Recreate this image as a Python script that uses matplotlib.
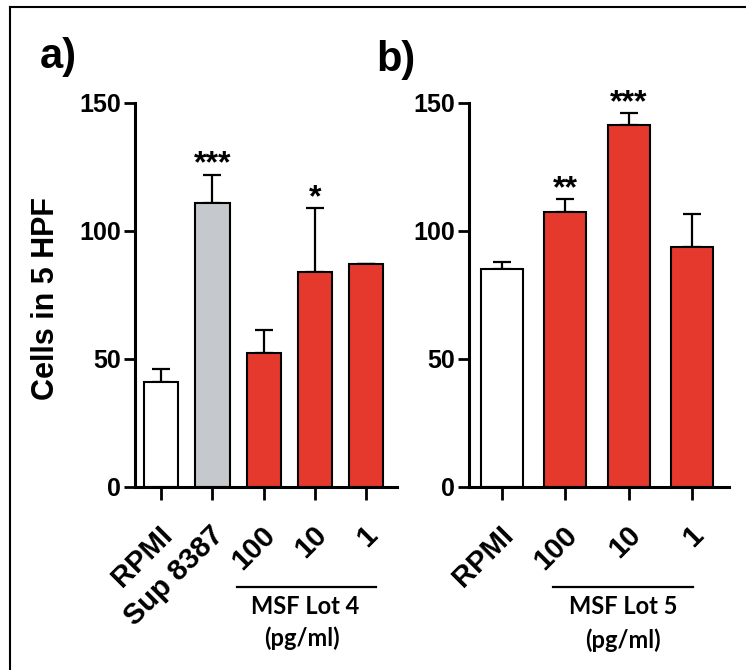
import matplotlib
matplotlib.use('Agg')
import matplotlib.pyplot as plt
from matplotlib.lines import Line2D
from matplotlib.transforms import ScaledTranslation, blended_transform_factory

plt.rcParams['font.family'] = ['Liberation Sans', 'DejaVu Sans']

# panel a
labels_a = ['RPMI', 'Sup 8387', '100', '10', '1']
values_a = [41, 111, 52.5, 84, 87]
errors_a = [5, 11, 9, 25, 0]
colors_a = ['white', '#c5c8cd', '#e5392d', '#e5392d', '#e5392d']
stars_a = ['', '***', '', '*', '']

# panel b
labels_b = ['RPMI', '100', '10', '1']
values_b = [85, 107.5, 141.5, 93.7]
errors_b = [3, 5, 4.5, 13]
colors_b = ['white', '#e5392d', '#e5392d', '#e5392d']
stars_b = ['', '**', '***', '']

W, H = 746, 670


def fx(px):
    return px / W


def fy(py):
    return 1 - py / H


def draw_panel(ax, labels, values, errors, colors, stars, width, xlim):
    x = list(range(len(labels)))
    ax.bar(x, values, width=width, color=colors, edgecolor='black', linewidth=1.5, zorder=2)
    ax.errorbar(x, values, yerr=[[0] * len(x), errors], fmt='none', ecolor='black',
                elinewidth=1.6, capsize=6.5, capthick=1.6, zorder=1)
    for xi, v, e, s in zip(x, values, errors, stars):
        if s:
            ax.text(xi, v + e + 0.8, s, ha='center', va='baseline', fontsize=23,
                    fontweight='bold', clip_on=False)
    ax.set_ylim(0, 150)
    ax.set_xlim(*xlim)
    ax.set_yticks([0, 50, 100, 150])
    ax.set_xticks(x)
    ax.set_xticklabels([])
    # rotated category labels, right edge a bit right of the tick
    trans = blended_transform_factory(ax.transData, ax.transAxes)
    trans = trans + ScaledTranslation(17 / 100, -34 / 100, ax.figure.dpi_scale_trans)
    for xi, lab in zip(x, labels):
        ax.text(xi, 0, lab, rotation=45, ha='right', va='top', fontsize=21,
                fontweight='bold', transform=trans, clip_on=False)
    for lab in ax.get_yticklabels():
        lab.set_fontweight('bold')
        lab.set_fontsize(18)
    for sp in ['top', 'right']:
        ax.spines[sp].set_visible(False)
    for sp in ['left', 'bottom']:
        ax.spines[sp].set_linewidth(2.2)
    ax.tick_params(axis='y', length=8, width=2, pad=2)
    ax.tick_params(axis='x', length=9, width=2, pad=6)
    ax.patch.set_alpha(0)


fig = plt.figure(figsize=(W / 100, H / 100), dpi=100)

ax_a = fig.add_axes([fx(135), fy(487), fx(262), 384 / H])
draw_panel(ax_a, labels_a, values_a, errors_a, colors_a, stars_a, 0.67, (-0.51, 4.6))

ax_b = fig.add_axes([fx(469), fy(487), fx(260), 384 / H])
draw_panel(ax_b, labels_b, values_b, errors_b, colors_b, stars_b, 0.66, (-0.52, 3.58))

# y label and panel letters
fig.text(fx(46), fy(298), 'Cells in 5 HPF', rotation=90, ha='center', va='center',
         fontsize=22, fontweight='bold')
fig.text(fx(40), fy(57), 'a)', ha='left', va='center', fontsize=30, fontweight='bold')
fig.text(fx(376), fy(60), 'b)', ha='left', va='center', fontsize=30, fontweight='bold')

# group labels under the concentrations
fig.add_artist(Line2D([fx(237), fx(376)], [fy(587), fy(587)], color='black', lw=1.6))
fig.add_artist(Line2D([fx(553), fx(693)], [fy(587), fy(587)], color='black', lw=1.6))
grp_font = ['Lato', 'DejaVu Sans']
fig.text(fx(305), fy(606), 'MSF Lot 4', ha='center', va='center', fontsize=17,
         fontweight='bold', family=grp_font)
fig.text(fx(302), fy(638), '(pg/ml)', ha='center', va='center', fontsize=17,
         fontweight='bold', family=grp_font)
fig.text(fx(623), fy(606), 'MSF Lot 5', ha='center', va='center', fontsize=17,
         fontweight='bold', family=grp_font)
fig.text(fx(623), fy(640), '(pg/ml)', ha='center', va='center', fontsize=17,
         fontweight='bold', family=grp_font)

# frame lines on the left and top
fig.add_artist(Line2D([fx(9.5), fx(9.5)], [0, fy(7)], color='black', lw=1.5))
fig.add_artist(Line2D([fx(9.5), 1], [fy(7), fy(7)], color='black', lw=1.5))

fig.savefig('out.png', dpi=100)
